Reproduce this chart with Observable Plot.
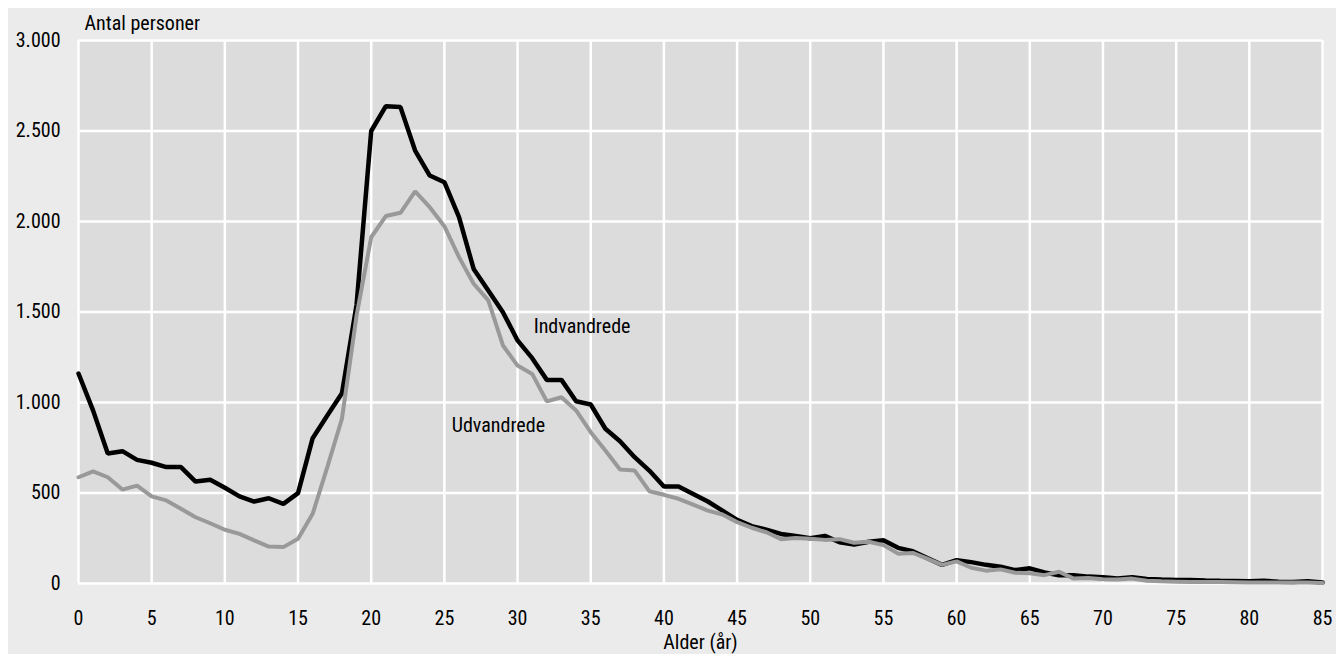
<!DOCTYPE html>
<html>
<head>
<meta charset="utf-8">
<script src="https://cdn.jsdelivr.net/npm/d3@7"></script>
<script src="https://cdn.jsdelivr.net/npm/@observablehq/plot@0.6"></script>
<style>
  html, body { margin: 0; padding: 0; background: #ffffff; }
  #chart { padding: 8px 0 0 8px; }
  #chart svg { display: block; background: #ebebeb; font-stretch: 75%; }
  #chart svg text { font-stretch: 75%; }
</style>
</head>
<body>
<div id="chart"></div>
<script>
const ages = d3.range(0, 86);
const indvandrede = [1160,955,718,731,683,667,643,643,563,573,529,481,453,471,440,499,803,928,1051,1540,
  2500,2637,2632,2392,2254,2217,2024,1738,1619,1499,1343,1245,1125,1125,1007,989,855,786,698,624,
  536,536,495,453,403,352,317,297,274,263,250,263,228,215,231,239,197,178,140,103,
  129,118,103,93,74,84,61,46,46,38,35,27,35,25,22,20,20,17,15,14,12,15,10,8,12,5];
const udvandrede = [587,620,587,519,541,481,459,413,366,333,297,274,238,204,201,247,385,643,910,1480,
  1913,2030,2048,2166,2079,1974,1803,1656,1564,1315,1204,1158,1006,1029,956,836,735,630,624,510,
  490,468,436,403,381,339,308,283,245,252,247,241,245,225,231,212,165,169,137,103,
  122,87,71,78,59,57,46,65,27,30,24,22,27,15,12,10,8,8,8,7,6,6,6,5,5,3];
const xTicks = d3.range(0, 86, 5);
const yTicks = [0, 500, 1000, 1500, 2000, 2500, 3000];
const seriesLabels = [
  {name: "Indvandrede", age: 31.1, value: 1420},
  {name: "Udvandrede", age: 25.5, value: 870}
];
const yTitle = "Antal personer";
const xTitle = "Alder (år)";

const inData = ages.map((a, i) => ({age: a, value: indvandrede[i]}));
const udData = ages.map((a, i) => ({age: a, value: udvandrede[i]}));
const fmt = d => d3.format(",")(d).replace(/,/g, ".");
const FONT = "Roboto, 'Open Sans', sans-serif";

const chart = Plot.plot({
  width: 1328,
  height: 646,
  marginLeft: 70,
  marginRight: 14,
  marginTop: 32,
  marginBottom: 71,
  style: {fontFamily: FONT, fontSize: "20px", color: "#000", background: "#ebebeb", overflow: "visible"},
  x: {domain: [0, 85]},
  y: {domain: [0, 3000]},
  marks: [
    Plot.frame({fill: "#dcdcdc", stroke: null}),
    Plot.gridX(xTicks, {stroke: "#ffffff", strokeOpacity: 1, strokeWidth: 2.5}),
    Plot.gridY(yTicks, {stroke: "#ffffff", strokeOpacity: 1, strokeWidth: 2.5}),
    Plot.axisX(xTicks, {tickSize: 0, tickPadding: 27, tickFormat: d => String(d), label: null, fontSize: 20}),
    Plot.axisY(yTicks, {tickSize: 0, tickPadding: 18, tickFormat: fmt, label: null, fontSize: 20}),
    Plot.line(inData, {x: "age", y: "value", stroke: "#000000", strokeWidth: 4.5, strokeLinejoin: "miter"}),
    Plot.line(udData, {x: "age", y: "value", stroke: "#999999", strokeWidth: 4, strokeLinejoin: "miter"}),
    Plot.text(seriesLabels, {x: "age", y: "value", text: "name", textAnchor: "start", fontSize: 20, fill: "#000"}),
    Plot.text([yTitle], {frameAnchor: "top-left", dx: 6, dy: -17, textAnchor: "start", lineAnchor: "middle", fontSize: 20}),
    Plot.text([xTitle], {frameAnchor: "bottom", dy: 59, textAnchor: "middle", lineAnchor: "middle", fontSize: 20})
  ]
});
document.getElementById("chart").appendChild(chart);
</script>
</body>
</html>
